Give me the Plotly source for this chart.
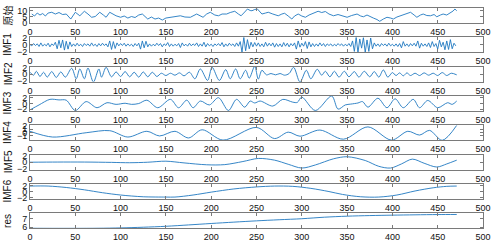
import plotly.graph_objects as go

# ---------------- data ----------------
orig_x = [2,5,8,11,14,17,20,24,28,32,36,40,45,50,55,60,64,68,72,77,81,84,88,92,95,100,104,108,112,116,120,124,127,130,134,138,142,146,150,155,160,166,171,177,184,188,191,195,199,204,208,212,217,221,226,230,233,237,240,243,245,248,251,254,256,260,263,268,274,278,281,285,289,292,296,300,304,308,311,315,318,322,326,330,335,340,345,350,355,361,365,368,372,376,379,383,386,390,394,398,401,405,409,414,420,424,427,431,434,438,442,446,449,453,456,460,465,467,469,471]
orig_y = [7.2,5.6,8.0,6.4,7.6,5.6,8.0,8.6,7.2,8.4,6.8,7.2,3.2,8.6,5.8,9.4,7.2,4.6,5.2,8.6,6.4,4.6,8.6,6.8,5.8,4.6,5.6,4.0,5.2,4.4,6.4,7.2,5.2,3.2,4.8,3.2,4.0,2.4,4.0,4.6,5.2,5.8,4.8,4.6,7.2,5.6,4.6,7.2,8.6,6.4,5.8,7.2,7.2,8.4,9.4,7.2,5.8,8.8,11.2,10.0,9.8,10.8,11.2,8.8,7.2,8.0,8.6,7.2,5.8,7.2,7.8,5.6,3.2,5.6,7.2,5.6,4.6,6.4,7.2,8.0,9.4,8.4,9.2,7.2,5.8,6.8,5.6,4.6,6.0,7.2,5.6,5.0,6.4,4.8,4.0,2.8,1.4,3.2,4.6,4.0,3.2,4.8,5.8,7.2,8.6,6.4,4.6,6.4,7.2,6.0,5.8,6.8,5.0,6.4,7.2,6.4,8.6,9.6,11.2,9.8]

imf1_x = list(range(0, 471, 2))
imf1_y = [0.1,-0.3,0.4,-0.2,0.3,-0.5,0.6,-0.4,0.2,-0.3,0.5,-0.6,0.3,-0.2,
          0.8,-1.2,1.4,-0.9,1.5,-1.6,1.1,-1.3,0.9,-0.5,
          0.3,-0.4,0.5,-0.3,0.2,-0.5,0.4,-0.2,0.3,-0.4,0.6,-0.3,0.2,-0.5,0.4,-0.3,0.5,-0.2,0.3,-0.6,
          1.2,-1.4,1.0,-1.1,0.6,
          -0.3,0.4,-0.2,0.5,-0.4,0.3,-0.3,0.2,-0.5,0.4,-0.3,0.5,
          -1.3,1.2,-0.9,1.1,-0.6,
          0.3,-0.4,0.2,-0.3,0.5,-0.2,0.4,-0.6,0.3,-0.2,0.7,-0.5,0.3,-0.4,0.2,-0.3,0.4,-0.8,0.6,-0.3,
          0.2,-0.4,0.5,-0.3,0.3,-0.2,0.6,-0.5,0.3,-0.4,0.8,-0.6,0.4,-0.3,0.2,-0.5,0.3,-0.2,0.4,-0.3,
          0.7,-0.6,0.3,-0.4,0.5,-0.2,0.3,-0.5,0.6,-0.4,
          1.0,-2.2,2.3,-1.8,1.6,-1.2,0.8,
          -0.6,0.7,-0.4,0.6,-0.5,0.3,-0.6,0.8,-0.4,0.5,-0.3,0.6,-0.7,0.4,-0.5,0.3,-0.6,0.7,-0.4,0.5,-0.6,0.4,-0.3,0.6,
          -1.3,1.2,-0.7,
          0.5,-0.4,1.0,-1.1,0.9,-0.6,
          0.4,-0.5,0.3,-0.4,0.6,-0.3,0.4,-0.5,0.3,-0.2,
          0.3,-0.4,0.2,-0.3,0.4,-0.2,0.3,-0.4,0.2,-0.3,0.4,-0.5,
          1.2,-2.0,2.3,-2.4,1.8,-1.0,2.2,-2.3,1.5,-2.0,2.1,-1.2,0.6,
          -0.4,0.3,-0.5,0.4,-0.2,0.3,-0.4,0.5,-0.3,0.2,-0.4,0.3,-0.5,0.4,-0.9,1.0,-0.4,0.3,-0.5,0.4,-0.3,0.5,-0.4,
          1.2,-1.0,0.5,-0.4,0.3,-0.5,
          0.6,-0.8,1.0,-0.5,0.4,-1.3,1.4,-0.6,0.8,-1.5,1.2,-1.4,1.6,-1.2,0.5,-0.3]

imf2_x = [0,4,7,11,15,19,24,29,34,39,46,51,55,60,64,70,76,79,84,90,95,100,105,110,115,120,125,130,135,140,145,150,155,160,165,170,176,182,188,196,201,209,216,221,227,232,238,242,248,252,256,261,266,271,276,281,286,291,298,305,310,317,322,326,331,336,341,347,352,358,363,369,375,380,385,390,395,400,404,408,412,416,420,425,430,435,440,445,450,455,460,465,471]
imf2_y = [0.6,-0.3,0.9,-0.7,0.6,-0.9,0.8,-1.0,0.7,-0.9,1.8,-1.4,1.6,-1.4,1.9,-2.4,1.6,-0.9,2.1,-0.8,0.7,-0.7,0.8,-0.8,0.6,-0.9,0.7,-0.8,0.6,-0.7,0.3,-0.4,0.3,-0.3,0.4,-0.5,0.6,-1.4,1.6,-1.9,2.1,-1.9,1.4,-1.4,1.6,-1.4,1.2,-1.2,2.4,-1.5,1.2,-0.2,0.2,-0.2,0.2,-0.3,0.2,2.1,-2.4,1.2,-1.4,1.5,-0.3,0.9,-0.8,0.9,-0.9,0.9,-0.8,0.8,-0.9,0.9,-0.8,0.8,-0.9,1.3,-0.9,0.5,-0.4,0.4,-0.5,0.4,-0.4,0.3,-0.4,0.4,-0.3,0.3,-0.4,0.5,-0.4,0.3,-0.2]

imf3_x = [1,10,22,32,40,50,62,74,85,95,105,112,120,129,141,155,164,173,180,188,198,208,219,228,237,243,248,254,268,279,290,295,300,315,333,340,348,354,362,367,373,384,394,403,412,423,430,439,450,461,466,471]
imf3_y = [-2.1,-0.5,1.5,1.3,1.2,-2.5,0.7,-1.5,0.3,-0.3,0.1,-0.3,0.0,1.2,-1.5,1.5,-1.5,1.2,-1.5,0.9,-0.5,2.1,-2.5,1.5,-1.3,0.9,0.2,0.9,-0.9,1.5,0.5,0.4,2.3,-2.5,2.7,-2.0,-0.5,-0.2,0.2,0.7,-1.3,1.9,-1.5,1.7,-1.5,1.5,-1.5,1.1,-1.5,0.3,-0.3,0.9]

imf4_x = [0,25,62,88,108,129,143,160,175,190,213,250,270,285,298,320,346,373,399,417,430,441,455,471]
imf4_y = [0.37,-1.5,-0.1,0.57,-1.5,0.37,-1.15,0.37,-1.8,0.86,-2.5,1.63,-2.0,0.09,-1.23,0.77,-2.2,1.8,-2.5,0.37,-0.86,0.66,-2.57,2.3]

imf5_x = [0,30,60,90,110,130,150,170,195,215,235,252,270,285,300,315,335,350,370,385,398,410,422,435,449,460,471]
imf5_y = [0.0,0.05,0.05,-0.05,-0.15,0.0,0.3,-0.2,-0.75,-0.7,0.2,1.1,0.6,-0.6,-1.7,-0.8,1.0,1.6,0.5,-1.2,-1.7,-0.5,0.9,-0.3,-1.4,-0.5,0.6]

imf6_x = [0,20,40,60,80,100,125,150,160,180,200,225,250,270,290,310,330,345,365,385,405,425,445,460,471]
imf6_y = [1.9,1.9,1.4,0.6,-0.4,-1.2,-1.8,-1.9,-1.9,-1.2,-0.2,0.9,1.6,1.9,1.8,1.1,0.0,-1.0,-1.8,-1.9,-1.2,0.2,1.3,1.8,1.9]

res_x = [0,25,50,75,100,125,150,175,200,225,250,275,300,325,350,375,400,425,450,471]
res_y = [5.88,5.87,5.87,5.88,5.92,6.0,6.11,6.27,6.44,6.6,6.75,6.88,7.0,7.18,7.3,7.37,7.42,7.46,7.49,7.5]

row_labels = ["原始", "IMF1", "IMF2", "IMF3", "IMF4", "IMF5", "IMF6", "res"]
x_ticks = [0, 50, 100, 150, 200, 250, 300, 350, 400, 450, 500]
y_ticks = [[0, 5, 10], [-2, 0, 2], [-2, 0, 2], [-2, 0, 2], [-1, 0, 1, 2], [-2, 0, 2], [-2, 0, 2], [6, 7]]
y_ranges = [[0, 12], [-2.3, 2.3], [-2.3, 2.3], [-2.7, 2.7], [-2.6, 2.3], [-2.2, 2.2], [-2.6, 2.6], [5.86, 7.63]]

series = [(orig_x, orig_y, "linear"), (imf1_x, imf1_y, "linear"), (imf2_x, imf2_y, "spline"),
          (imf3_x, imf3_y, "spline"), (imf4_x, imf4_y, "spline"), (imf5_x, imf5_y, "spline"),
          (imf6_x, imf6_y, "spline"), (res_x, res_y, "spline")]

# ---------------- layout ----------------
W, H = 495, 246
ML, MR, MT, MB = 30, 12, 4, 13
plot_h = H - MT - MB
row_step, box_h = 30.4, 15.6

fig = go.Figure()
LINE = "#1f78c1"
AX = "#7a7a7a"
FONT = "Liberation Sans, Arial, sans-serif"

annotations = []
for i, (xs, ys, shape) in enumerate(series):
    k = "" if i == 0 else str(i + 1)
    fig.add_trace(go.Scatter(x=xs, y=ys, mode="lines", line=dict(color=LINE, width=0.9, shape=shape, smoothing=0.9),
                             xaxis="x" + k, yaxis="y" + k, showlegend=False, hoverinfo="skip"))
    top = MT + row_step * i
    d1 = (H - MB - top) / plot_h
    d0 = (H - MB - top - box_h) / plot_h
    fig.layout["xaxis" + k] = dict(domain=[0, 1], anchor="y" + k, range=[0, 500], tickvals=x_ticks,
                                   ticks="inside", ticklen=3, tickcolor=AX, showline=True, linecolor=AX,
                                   linewidth=1, mirror="ticks", showgrid=False, zeroline=False,
                                   ticklabeloverflow="allow",
                                   tickfont=dict(family=FONT, size=9, color="#111"))
    fig.layout["yaxis" + k] = dict(domain=[max(d0, 0), min(d1, 1)], anchor="x" + k, range=y_ranges[i],
                                   tickvals=y_ticks[i], ticks="inside", ticklen=3, tickcolor=AX,
                                   showline=True, linecolor=AX, linewidth=1, mirror="ticks",
                                   showgrid=False, zeroline=False, ticklabeloverflow="allow",
                                   tickfont=dict(family=FONT, size=9, color="#111"))
    annotations.append(dict(text=row_labels[i], x=(8 - ML) / (W - ML - MR), xref="paper",
                            y=(d0 + d1) / 2, yref="paper", textangle=-90, showarrow=False,
                            xanchor="center", yanchor="middle",
                            font=dict(family="Liberation Sans, Noto Sans CJK SC, sans-serif", size=10, color="#111")))

fig.update_layout(width=W, height=H, margin=dict(l=ML, r=MR, t=MT, b=MB),
                  paper_bgcolor="white", plot_bgcolor="white", annotations=annotations)
fig.write_html("out.html", config={"displayModeBar": False, "staticPlot": True},
               post_script="document.body.style.margin='0';document.body.style.overflow='hidden';")
